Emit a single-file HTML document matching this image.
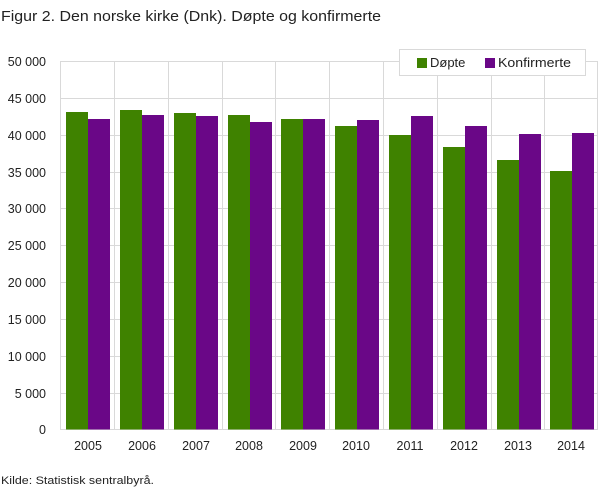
<!DOCTYPE html><html><head><style>body{margin:0;background:#fff;font-family:"Liberation Sans",sans-serif}</style></head><body>
<svg width="608" height="488" xmlns="http://www.w3.org/2000/svg" font-family="Liberation Sans, sans-serif">
<text x="1" y="21" font-size="15" fill="#222" textLength="380" lengthAdjust="spacingAndGlyphs">Figur 2. Den norske kirke (Dnk). Døpte og konfirmerte</text>
<g stroke="#d9d9d9" stroke-width="1">
<line x1="60.5" y1="61.5" x2="598" y2="61.5"/><line x1="60.5" y1="98.5" x2="598" y2="98.5"/><line x1="60.5" y1="135.5" x2="598" y2="135.5"/><line x1="60.5" y1="172.5" x2="598" y2="172.5"/><line x1="60.5" y1="208.5" x2="598" y2="208.5"/><line x1="60.5" y1="245.5" x2="598" y2="245.5"/><line x1="60.5" y1="282.5" x2="598" y2="282.5"/><line x1="60.5" y1="319.5" x2="598" y2="319.5"/><line x1="60.5" y1="356.5" x2="598" y2="356.5"/><line x1="60.5" y1="393.5" x2="598" y2="393.5"/><line x1="60.5" y1="429.5" x2="598" y2="429.5"/>
<line x1="60.5" y1="61" x2="60.5" y2="430"/><line x1="114.5" y1="61" x2="114.5" y2="430"/><line x1="168.5" y1="61" x2="168.5" y2="430"/><line x1="222.5" y1="61" x2="222.5" y2="430"/><line x1="275.5" y1="61" x2="275.5" y2="430"/><line x1="329.5" y1="61" x2="329.5" y2="430"/><line x1="383.5" y1="61" x2="383.5" y2="430"/><line x1="437.5" y1="61" x2="437.5" y2="430"/><line x1="491.5" y1="61" x2="491.5" y2="430"/><line x1="544.5" y1="61" x2="544.5" y2="430"/><line x1="597.5" y1="61" x2="597.5" y2="430"/>
</g>
<g font-size="12.5" fill="#222" text-anchor="end">
<text x="46" y="66">50 000</text><text x="46" y="103">45 000</text><text x="46" y="140">40 000</text><text x="46" y="177">35 000</text><text x="46" y="213">30 000</text><text x="46" y="250">25 000</text><text x="46" y="287">20 000</text><text x="46" y="324">15 000</text><text x="46" y="361">10 000</text><text x="46" y="398">5 000</text><text x="46" y="434">0</text>
</g>
<g fill="#3f8200">
<rect x="66" y="112" width="22" height="317.5"/><rect x="120" y="110" width="22" height="319.5"/><rect x="174" y="113" width="22" height="316.5"/><rect x="228" y="115" width="22" height="314.5"/><rect x="281" y="119" width="22" height="310.5"/><rect x="335" y="126" width="22" height="303.5"/><rect x="389" y="135" width="22" height="294.5"/><rect x="443" y="147" width="22" height="282.5"/><rect x="497" y="160" width="22" height="269.5"/><rect x="550" y="171" width="22" height="258.5"/>
</g>
<g fill="#6a0787">
<rect x="88" y="119" width="22" height="310.5"/><rect x="142" y="115" width="22" height="314.5"/><rect x="196" y="116" width="22" height="313.5"/><rect x="250" y="122" width="22" height="307.5"/><rect x="303" y="119" width="22" height="310.5"/><rect x="357" y="120" width="22" height="309.5"/><rect x="411" y="116" width="22" height="313.5"/><rect x="465" y="126" width="22" height="303.5"/><rect x="519" y="134" width="22" height="295.5"/><rect x="572" y="133" width="22" height="296.5"/>
</g>
<g font-size="12.5" fill="#222" text-anchor="middle">
<text x="88" y="450">2005</text><text x="142" y="450">2006</text><text x="196" y="450">2007</text><text x="249" y="450">2008</text><text x="303" y="450">2009</text><text x="356" y="450">2010</text><text x="410" y="450">2011</text><text x="464" y="450">2012</text><text x="518" y="450">2013</text><text x="571" y="450">2014</text>
</g>
<rect x="399.5" y="49.5" width="186" height="26" fill="#fff" stroke="#d9d9d9"/>
<rect x="417" y="58" width="10" height="10" fill="#3f8200"/>
<text x="430" y="67" font-size="13" fill="#222">Døpte</text>
<rect x="485" y="58" width="10" height="10" fill="#6a0787"/>
<text x="498" y="67" font-size="13" fill="#222" textLength="73" lengthAdjust="spacingAndGlyphs">Konfirmerte</text>
<text x="1" y="484" font-size="11" fill="#222" textLength="153" lengthAdjust="spacingAndGlyphs">Kilde: Statistisk sentralbyrå.</text>
</svg></body></html>
